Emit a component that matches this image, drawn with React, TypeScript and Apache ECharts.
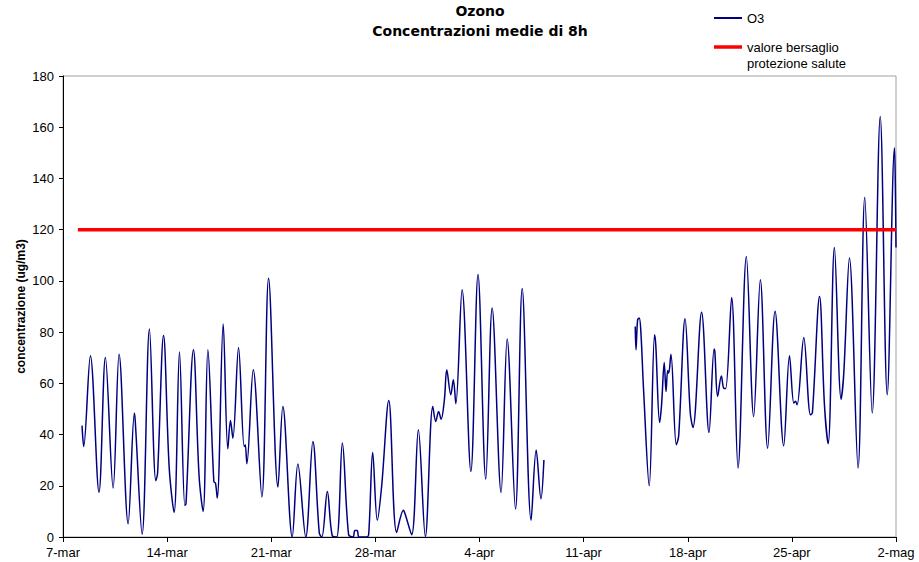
import React, { useEffect, useRef } from "react";
import * as echarts from "echarts";

// x = days since 7 March, y = concentration (ug/m3)
const o3Segment1: [number, number][] = [
  [1.28, 43.5], [1.39, 35.3], [1.84, 70.8], [2.42, 17.5], [2.85, 70.1], [3.37, 19.1],
  [3.77, 71.4], [4.38, 5.2], [4.8, 48.4], [4.86, 45], [5.32, 1.1], [5.81, 81.2],
  [6.24, 22], [6.36, 25], [6.76, 78.7], [7.14, 27], [7.47, 9.6], [7.83, 72.2],
  [8.19, 12.3], [8.27, 13], [8.77, 73.1], [9.15, 23.6], [9.42, 10], [9.74, 73.1],
  [10.14, 21.7], [10.25, 21], [10.37, 15.2], [10.77, 83.2], [11.08, 34.4], [11.26, 45.5],
  [11.42, 38.6], [11.8, 74], [12.18, 35.3], [12.25, 36], [12.36, 28.6], [12.79, 65.3],
  [13.37, 15.6], [13.82, 101], [14.45, 19.5], [14.78, 51], [15.41, 0], [15.79, 28.5],
  [16.32, 0], [16.8, 37.3], [17.23, 1.5], [17.4, 0], [17.77, 17.8], [18.1, 0.5],
  [18.4, 0], [18.78, 36.7], [19.2, 0.9], [19.5, 0], [19.62, 2.5], [19.78, 2.5],
  [19.9, 0], [20.4, 0], [20.55, 1], [20.82, 33], [21.13, 6.5], [21.42, 19.7],
  [21.9, 53.3], [22.43, 1.8], [22.89, 10.4], [23.0, 9], [23.44, 0.9], [23.89, 41.9],
  [24.36, 0.2], [24.86, 51], [25.06, 45.1], [25.25, 49], [25.42, 46], [25.64, 53.6],
  [25.8, 65.3], [26.07, 55.5], [26.24, 61.4], [26.41, 52], [26.83, 96.5], [27.42, 25.6],
  [27.9, 102.5], [28.42, 22.6], [28.85, 89.4], [29.45, 17.4], [29.86, 77.3], [30.42, 10.9],
  [30.87, 97], [31.47, 6.5], [31.81, 34], [32.13, 14.9], [32.33, 30.1],
];

const o3Segment2: [number, number][] = [
  [38.47, 82.2], [38.52, 73.1], [38.63, 84.8], [38.74, 85.5], [38.85, 80], [39.03, 57.5],
  [39.41, 20], [39.77, 79], [39.85, 75], [40.11, 44.7], [40.24, 51.6], [40.42, 68.1],
  [40.54, 56.8], [40.65, 65], [40.72, 64], [40.87, 71.4], [41.23, 36], [41.39, 39.5],
  [41.82, 85.2], [42.17, 48.4], [42.35, 42.8], [42.93, 87.8], [43.43, 40.8], [43.77, 73.4],
  [43.82, 72.5], [44.01, 54.9], [44.26, 62.9], [44.42, 58.1], [44.55, 58], [44.95, 93.5],
  [45.38, 26.9], [45.94, 109.5], [46.43, 47], [46.88, 100.4], [47.37, 34.7], [47.87, 88.1],
  [48.45, 35.6], [48.84, 70.8], [49.13, 52.3], [49.24, 53], [49.35, 51.6], [49.8, 77.9],
  [50.25, 47.7], [50.38, 48.5], [50.86, 93.9], [51.19, 51.6], [51.44, 36.4], [51.86, 113],
  [52.31, 53.8], [52.49, 64], [52.87, 108.9], [53.45, 26.9], [53.9, 132.7], [54.4, 48.4],
  [54.94, 164.2], [55.41, 55.5], [55.9, 152], [55.95, 140], [56.0, 113],
];

const targetLine: [number, number][] = [[1, 120], [56, 120]];

const xTickLabels = ["7-mar", "14-mar", "21-mar", "28-mar", "4-apr", "11-apr", "18-apr", "25-apr", "2-mag"];

const titleLines = ["Ozono", "Concentrazioni medie di 8h"];
const seriesO3Name = "O3";
const seriesTargetName = "valore bersaglio\nprotezione salute";

export default function App() {
  const ref = useRef<HTMLDivElement>(null);
  useEffect(() => {
    if (!ref.current) return;
    const chart = echarts.init(ref.current, undefined, { renderer: "svg" });
    const o3Data: any[] = [...o3Segment1, [35.4, "-"], ...o3Segment2];
    const axisFont = { fontFamily: "Liberation Sans, Arial, sans-serif", fontSize: 13, color: "#000" };
    const titleFont = "bold 14px 'DejaVu Sans', sans-serif";
    chart.setOption({
      animation: false,
      backgroundColor: "#fff",
      graphic: titleLines.map((t, i) => ({
        type: "text",
        x: 480,
        y: 11 + i * 20,
        style: {
          text: t,
          font: titleFont,
          fill: "#000",
          align: "center",
          verticalAlign: "middle",
          textAlign: "center",
          textVerticalAlign: "middle",
        },
      })),
      legend: [
        {
          data: [seriesO3Name],
          left: 714,
          top: 10,
          padding: 0,
          icon: "rect",
          itemWidth: 28,
          itemHeight: 2,
          textStyle: { ...axisFont, lineHeight: 16 },
        },
        {
          data: [seriesTargetName],
          left: 714,
          top: 23,
          padding: 0,
          icon: "rect",
          itemWidth: 28,
          itemHeight: 3.5,
          formatter: (name: string) => "\n" + name,
          textStyle: { ...axisFont, lineHeight: 16 },
        },
      ],
      grid: {
        left: 63,
        right: 23,
        top: 76,
        bottom: 25,
        show: true,
        borderColor: "#a0a0a0",
        borderWidth: 1,
      },
      xAxis: {
        type: "value",
        min: 0,
        max: 56,
        interval: 7,
        axisLine: { show: true, lineStyle: { color: "#000", width: 1 } },
        axisTick: { show: true, length: 5, lineStyle: { color: "#000" } },
        splitLine: { show: false },
        axisLabel: {
          ...axisFont,
          margin: 9,
          formatter: (v: number) => xTickLabels[Math.round(v / 7)] ?? "",
        },
      },
      yAxis: {
        type: "value",
        min: 0,
        max: 180,
        interval: 20,
        name: "concentrazione (ug/m3)",
        nameLocation: "middle",
        nameGap: 36,
        nameMoveOverlap: false,
        nameTextStyle: {
          fontFamily: "Liberation Sans, Arial, sans-serif",
          fontWeight: "bold",
          fontSize: 12,
          color: "#000",
        },
        axisLine: { show: true, lineStyle: { color: "#000", width: 1 } },
        axisTick: { show: true, length: 4, lineStyle: { color: "#000" } },
        splitLine: { show: false },
        axisLabel: { ...axisFont, margin: 9 },
      },
      series: [
        {
          name: seriesO3Name,
          type: "line",
          data: o3Data,
          symbol: "none",
          smooth: 0.35,
          connectNulls: false,
          lineStyle: { color: "#000080", width: 1.5 },
          itemStyle: { color: "#000080" },
          z: 2,
        },
        {
          name: seriesTargetName,
          type: "line",
          data: targetLine,
          symbol: "none",
          lineStyle: { color: "#ff0000", width: 3.5 },
          itemStyle: { color: "#ff0000" },
          z: 3,
        },
      ],
    });
    return () => chart.dispose();
  }, []);
  return (
    <div
      ref={ref}
      style={{ position: "fixed", left: 0, top: 0, width: 919, height: 562 }}
    />
  );
}
